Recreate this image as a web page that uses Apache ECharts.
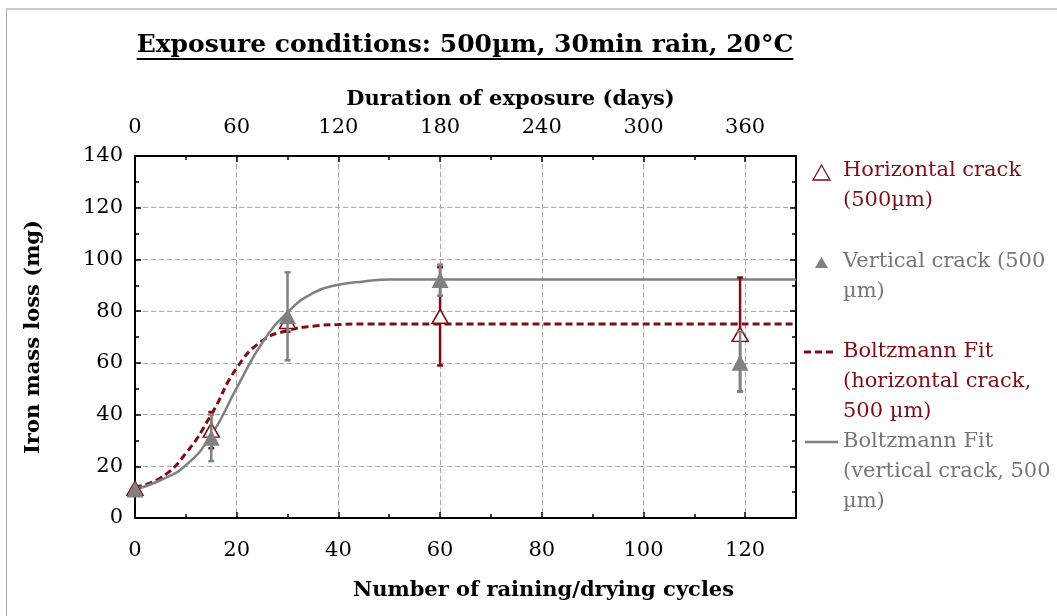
<!DOCTYPE html>
<html><head><meta charset="utf-8">
<script src="https://cdn.jsdelivr.net/npm/echarts@6/dist/echarts.min.js"></script>
<style>html,body{margin:0;padding:0;background:#fff}#c{width:1057px;height:616px}</style>
</head><body><div id="c"></div>
<script>
// ---- data ----
const cycles = [0, 15, 30, 60, 119];
const horizontalMass = [11.5, 34, 76, 78, 71];
const horizontalErrLow = [11, 27, 72, 59, 49];
const horizontalErrHigh = [12, 41, 78, 97, 93];
const verticalMass = [11, 31, 78, 92, 60];
const verticalErrLow = [10, 22, 61, 86, 49];
const verticalErrHigh = [12, 40, 95, 98, 72];
const fitCycles = [0, 5, 10, 15, 20, 25, 30, 35, 40, 45, 50, 60, 130];
const horizontalFit = [12, 15.5, 25, 40, 58, 68.5, 72.5, 74.2, 74.8, 75, 75, 75, 75];
const verticalFit = [11, 14.6, 20.4, 32, 50.3, 67.7, 79.5, 87, 90.2, 91.5, 92.2, 92.2, 92.2];
const titleText = 'Exposure conditions: 500\u00b5m, 30min rain, 20\u00b0C';
const xName = 'Number of raining/drying cycles';
const x2Name = 'Duration of exposure (days)';
const yName = 'Iron mass loss (mg)';
const legendHorizontal = ['Horizontal crack', '(500\u00b5m)'];
const legendVertical = ['Vertical crack (500', '\u00b5m)'];
const legendFitH = ['Boltzmann Fit', '(horizontal crack,', '500 \u00b5m)'];
const legendFitV = ['Boltzmann Fit', '(vertical crack, 500', '\u00b5m)'];

const RED = '#7d0e16';
const GREY = '#808080';
const GREYTXT = '#767676';
const FONT = '"DejaVu Serif", serif';

const chart = echarts.init(document.getElementById('c'), null, {renderer: 'canvas'});

function errSeries(low, high, color, z) {
  return {
    type: 'custom', xAxisIndex: 0, yAxisIndex: 0, z: z, silent: true,
    data: cycles.map((c, i) => [c, low[i], high[i]]),
    encode: {x: 0, y: [1, 2]},
    renderItem: function (params, api) {
      const x = api.value(0);
      const lo = api.coord([x, api.value(1)]);
      const hi = api.coord([x, api.value(2)]);
      const w = 3;
      const style = {stroke: color, lineWidth: 2.5};
      return {type: 'group', children: [
        {type: 'line', shape: {x1: lo[0], y1: lo[1], x2: hi[0], y2: hi[1]}, style: style},
        {type: 'line', shape: {x1: lo[0] - w, y1: lo[1], x2: lo[0] + w, y2: lo[1]}, style: style},
        {type: 'line', shape: {x1: hi[0] - w, y1: hi[1], x2: hi[0] + w, y2: hi[1]}, style: style}
      ]};
    }
  };
}

// measure title for underline
const cv = document.createElement('canvas').getContext('2d');
const titleFont = 'bold 25px "DejaVu Serif"';
cv.font = titleFont;
const titleW = cv.measureText(titleText).width;
const titleCX = 465;

const legendGraphics = [];
function legendLines(lines, y0, color) {
  lines.forEach((t, i) => {
    legendGraphics.push({type: 'text', x: 843, y: y0 + i * 30,
      style: {text: t, font: '21px ' + FONT, fill: color, textVerticalAlign: 'middle', textAlign: 'left'}});
  });
}
legendLines(legendHorizontal, 171, RED);
legendLines(legendVertical, 262, GREYTXT);
legendLines(legendFitH, 352, RED);
legendLines(legendFitV, 442, GREYTXT);
legendGraphics.push(
  {type: 'polygon', shape: {points: [[821.5, 165], [830, 180], [813, 180]]}, style: {fill: '#fff', stroke: RED, lineWidth: 1.3}},
  {type: 'polygon', shape: {points: [[821.5, 257], [828, 268], [815, 268]]}, style: {fill: GREY}},
  {type: 'line', shape: {x1: 804, y1: 352, x2: 837, y2: 352}, style: {stroke: RED, lineWidth: 3, lineDash: [7, 4]}},
  {type: 'line', shape: {x1: 805, y1: 442, x2: 838, y2: 442}, style: {stroke: GREY, lineWidth: 2.5}}
);

const axisCommon = {
  axisLine: {show: true, onZero: false, lineStyle: {color: '#000', width: 2}},
  axisTick: {show: true, inside: true, length: 6, lineStyle: {color: '#000', width: 1.5}},
  minorTick: {show: true, splitNumber: 2, length: 4, lineStyle: {color: '#000', width: 1.5}},
  axisLabel: {fontFamily: FONT, fontSize: 21, color: '#000'},
  nameTextStyle: {fontFamily: FONT, fontSize: 21, fontWeight: 'bold', color: '#000'}
};
const gridLine = {show: true, lineStyle: {color: '#a6a6a6', width: 1, type: [5, 3]}};

const option = {
  animation: false,
  backgroundColor: '#fff',
  grid: {left: 135, right: 261, top: 156, bottom: 98, containLabel: false},
  xAxis: [
    Object.assign({}, axisCommon, {
      type: 'value', position: 'bottom', min: 0, max: 130, interval: 20,
      name: xName, nameLocation: 'middle', nameGap: 62,
      nameTextStyle: Object.assign({}, axisCommon.nameTextStyle, {padding: [0, 0, 0, 156]}),
      axisLabel: Object.assign({}, axisCommon.axisLabel, {margin: 22, showMaxLabel: false}),
      splitLine: gridLine
    }),
    Object.assign({}, axisCommon, {
      type: 'value', position: 'top', min: 0, max: 390, interval: 60,
      name: x2Name, nameLocation: 'middle', nameGap: 46,
      nameTextStyle: Object.assign({}, axisCommon.nameTextStyle, {padding: [0, 0, 0, 90]}),
      axisLabel: Object.assign({}, axisCommon.axisLabel, {margin: 18, showMaxLabel: false}),
      splitLine: {show: false}
    })
  ],
  yAxis: [
    Object.assign({}, axisCommon, {
      type: 'value', position: 'left', min: 0, max: 140, interval: 20,
      name: yName, nameLocation: 'middle', nameGap: 91,
      axisLabel: Object.assign({}, axisCommon.axisLabel, {margin: 12}),
      splitLine: gridLine
    }),
    Object.assign({}, axisCommon, {
      type: 'value', position: 'right', min: 0, max: 140, interval: 20,
      axisLabel: {show: false}, splitLine: {show: false}
    })
  ],
  graphic: [
    {type: 'line', shape: {x1: 6, y1: 9, x2: 1057, y2: 9}, style: {stroke: '#cfcfcf', lineWidth: 2}},
    {type: 'line', shape: {x1: 6.5, y1: 9, x2: 6.5, y2: 616}, style: {stroke: '#a8a8a8', lineWidth: 1}},
    {type: 'text', x: titleCX, y: 45, style: {text: titleText, font: titleFont, fill: '#000', textAlign: 'center', textVerticalAlign: 'middle'}},
    {type: 'line', shape: {x1: titleCX - titleW / 2, y1: 59, x2: titleCX + titleW / 2, y2: 59}, style: {stroke: '#000', lineWidth: 2}}
  ].concat(legendGraphics),
  series: [
    {type: 'line', name: 'fitH', z: 1, xAxisIndex: 0, yAxisIndex: 0, smooth: 0.5, symbol: 'none',
      data: fitCycles.map((c, i) => [c, horizontalFit[i]]),
      lineStyle: {color: RED, width: 3, type: [7, 4]}},
    {type: 'line', name: 'fitV', z: 1, xAxisIndex: 0, yAxisIndex: 0, smooth: 0.5, symbol: 'none',
      data: fitCycles.map((c, i) => [c, verticalFit[i]]),
      lineStyle: {color: GREY, width: 2.5}},
    errSeries(horizontalErrLow, horizontalErrHigh, RED, 2),
    {type: 'scatter', name: 'horizontal', z: 3, xAxisIndex: 0, yAxisIndex: 0, symbol: 'triangle', symbolSize: [16, 14],
      data: cycles.map((c, i) => [c, horizontalMass[i]]),
      itemStyle: {color: '#fff', borderColor: RED, borderWidth: 1.5, opacity: 1}},
    errSeries(verticalErrLow, verticalErrHigh, GREY, 4),
    {type: 'scatter', name: 'vertical', z: 5, xAxisIndex: 0, yAxisIndex: 0, symbol: 'triangle', symbolSize: [17, 16],
      data: cycles.map((c, i) => [c, verticalMass[i]]),
      itemStyle: {color: GREY, opacity: 1}}
  ]
};
chart.setOption(option);
</script>
</body></html>
